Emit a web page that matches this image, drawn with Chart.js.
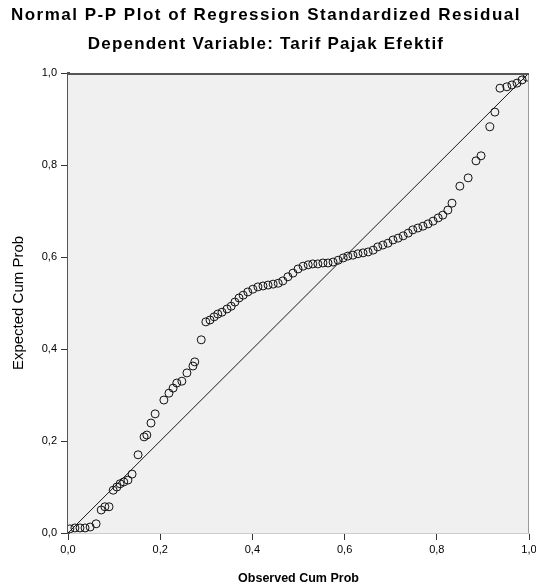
<!DOCTYPE html>
<html>
<head>
<meta charset="utf-8">
<script src="https://cdn.jsdelivr.net/npm/chart.js@4.4.1/dist/chart.umd.min.js"></script>
<style>
  html, body { margin: 0; padding: 0; background: #ffffff; }
  #wrap { width: 536px; height: 587px; }
</style>
</head>
<body>
<div id="wrap"><canvas id="ppChart" width="536" height="587"></canvas></div>
<script>
"use strict";

// Beobachtete kumulierte Wahrscheinlichkeit (x)
const observedCumProb = [
  0.004, 0.015, 0.026, 0.037, 0.048, 0.061, 0.072, 0.080, 0.089, 0.098,
  0.106, 0.113, 0.121, 0.130, 0.139, 0.152, 0.165, 0.171, 0.180, 0.189,
  0.208, 0.219, 0.228, 0.236, 0.247, 0.258, 0.271, 0.275, 0.289, 0.299,
  0.308, 0.317, 0.325, 0.334, 0.345, 0.354, 0.362, 0.371, 0.380, 0.390,
  0.401, 0.412, 0.423, 0.434, 0.445, 0.456, 0.466, 0.477, 0.488, 0.499,
  0.510, 0.521, 0.531, 0.542, 0.553, 0.564, 0.575, 0.586, 0.597, 0.607,
  0.618, 0.629, 0.640, 0.651, 0.662, 0.672, 0.683, 0.694, 0.705, 0.716,
  0.727, 0.738, 0.748, 0.759, 0.770, 0.781, 0.792, 0.803, 0.813, 0.824,
  0.833, 0.850, 0.868, 0.885, 0.896, 0.915, 0.926, 0.937, 0.952, 0.963,
  0.974, 0.985, 0.996
];

// Erwartete kumulierte Wahrscheinlichkeit (y)
const expectedCumProb = [
  0.009, 0.011, 0.011, 0.011, 0.013, 0.020, 0.050, 0.057, 0.057, 0.093,
  0.100, 0.107, 0.111, 0.115, 0.128, 0.170, 0.209, 0.213, 0.239, 0.259,
  0.289, 0.304, 0.315, 0.326, 0.330, 0.348, 0.363, 0.372, 0.420, 0.459,
  0.463, 0.470, 0.476, 0.480, 0.487, 0.493, 0.502, 0.511, 0.517, 0.524,
  0.530, 0.535, 0.537, 0.539, 0.541, 0.543, 0.548, 0.557, 0.565, 0.574,
  0.580, 0.583, 0.585, 0.585, 0.587, 0.587, 0.589, 0.593, 0.598, 0.602,
  0.604, 0.607, 0.609, 0.611, 0.615, 0.622, 0.626, 0.630, 0.637, 0.641,
  0.646, 0.652, 0.659, 0.663, 0.667, 0.672, 0.678, 0.685, 0.691, 0.702,
  0.717, 0.754, 0.772, 0.809, 0.820, 0.883, 0.915, 0.967, 0.970, 0.974,
  0.978, 0.985, 0.991
];

// Referenzlinie (Diagonale)
const diagonalX = [0, 1];
const diagonalY = [0, 1];

// Achsenbeschriftungen
const tickLabels = ["0,0", "0,2", "0,4", "0,6", "0,8", "1,0"];
const chartTitle = "Normal P-P Plot of Regression Standardized Residual";
const chartSubtitle = "Dependent Variable: Tarif Pajak Efektif";

const points = observedCumProb.map(function (x, i) {
  return { x: x, y: expectedCumProb[i] };
});
const diagonal = diagonalX.map(function (x, i) {
  return { x: x, y: diagonalY[i] };
});

function tickText(value) {
  const idx = Math.round(value / 0.2);
  return tickLabels[idx];
}

const fontFamily = "'Liberation Sans', Arial, sans-serif";

// Überschriften mit Sperrung (wie im SPSS-Export)
const headings = {
  id: "headings",
  afterDraw(chart) {
    const c = chart.ctx;
    c.save();
    c.fillStyle = "#000000";
    c.textAlign = "center";
    c.textBaseline = "middle";
    c.font = "bold 17px " + fontFamily;
    c.letterSpacing = "1.5px";
    c.fillText(chartTitle, 266, 15);
    c.letterSpacing = "1.2px";
    c.fillText(chartSubtitle, 266, 44);
    c.restore();
  }
};

// Hintergrund und Rahmen der Plotfläche
const plotFrame = {
  id: "plotFrame",
  beforeDatasetsDraw(chart) {
    const { ctx, chartArea } = chart;
    const { left, top, right, bottom } = chartArea;
    ctx.save();
    ctx.fillStyle = "#f0f0f0";
    ctx.fillRect(left, top, right - left, bottom - top);
    ctx.restore();
  },
  afterDatasetsDraw(chart) {
    const { ctx, chartArea } = chart;
    const { left, top, right, bottom } = chartArea;
    ctx.save();
    ctx.strokeStyle = "#9a9a9a";
    ctx.lineWidth = 1;
    ctx.beginPath();
    ctx.moveTo(right - 0.5, top);
    ctx.lineTo(right - 0.5, bottom);
    ctx.stroke();
    ctx.strokeStyle = "#555555";
    ctx.lineWidth = 2;
    ctx.beginPath();
    ctx.moveTo(left, top + 1);
    ctx.lineTo(right, top + 1);
    ctx.stroke();
    ctx.restore();
  }
};

const ctx = document.getElementById("ppChart");

new Chart(ctx, {
  type: "scatter",
  data: {
    datasets: [
      {
        type: "line",
        label: "Diagonale",
        data: diagonal,
        borderColor: "#1a1a1a",
        borderWidth: 1,
        pointRadius: 0,
        fill: false,
        order: 2
      },
      {
        label: "Residuen",
        data: points,
        pointStyle: "circle",
        pointRadius: 4,
        backgroundColor: "rgba(0,0,0,0)",
        borderColor: "#111111",
        borderWidth: 1,
        order: 1
      }
    ]
  },
  options: {
    responsive: false,
    animation: false,
    layout: {
      padding: { left: 0, right: 7, top: 73, bottom: 0 }
    },
    plugins: {
      legend: { display: false },
      tooltip: { enabled: false },
      title: { display: false }
    },
    scales: {
      x: {
        type: "linear",
        min: 0,
        max: 1,
        afterFit: function (scale) {
          scale.height = 54;
          scale.paddingLeft = 0;
          scale.paddingRight = 0;
        },
        ticks: {
          stepSize: 0.2,
          color: "#000000",
          padding: 3,
          maxRotation: 0,
          font: { family: fontFamily, size: 11 },
          callback: tickText
        },
        grid: {
          drawOnChartArea: false,
          drawTicks: true,
          tickLength: 7,
          color: "#333333"
        },
        border: { color: "#cccccc", width: 1 },
        title: {
          display: true,
          text: "Observed Cum Prob",
          color: "#000000",
          font: { family: fontFamily, size: 12.5, weight: "bold" },
          padding: { top: 0, bottom: 1 }
        }
      },
      y: {
        type: "linear",
        min: 0,
        max: 1,
        afterFit: function (scale) {
          scale.width = 68;
          scale.paddingTop = 0;
          scale.paddingBottom = 0;
        },
        ticks: {
          stepSize: 0.2,
          color: "#000000",
          padding: 4,
          font: { family: fontFamily, size: 11 },
          callback: tickText
        },
        grid: {
          drawOnChartArea: false,
          drawTicks: true,
          tickLength: 7,
          color: "#333333"
        },
        border: { color: "#555555", width: 3 },
        title: {
          display: true,
          text: "Expected Cum Prob",
          color: "#000000",
          font: { family: fontFamily, size: 15 },
          padding: { top: 10, bottom: 0 }
        }
      }
    }
  },
  plugins: [plotFrame, headings]
});
</script>
</body>
</html>
